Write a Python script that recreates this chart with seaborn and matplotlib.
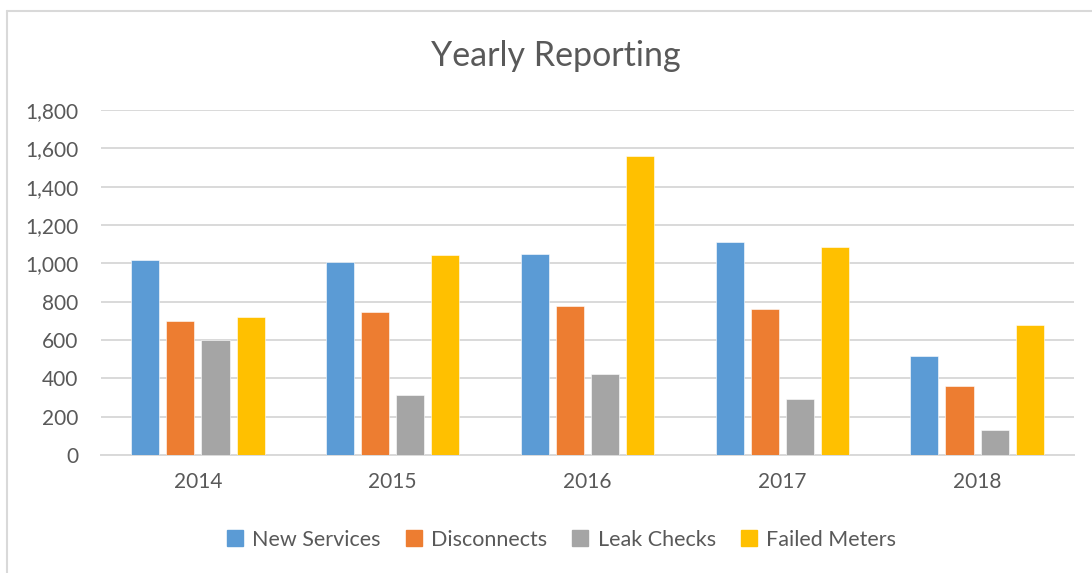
import matplotlib
matplotlib.use("Agg")
import matplotlib.pyplot as plt
from matplotlib.lines import Line2D
from matplotlib.ticker import FuncFormatter
import pandas as pd
import seaborn as sns

# Yearly counts per activity
years = ["2014", "2015", "2016", "2017", "2018"]
series_names = ["New Services", "Disconnects", "Leak Checks", "Failed Meters"]
new_services = [1017, 1009, 1047, 1110, 518]
disconnects = [701, 746, 777, 760, 358]
leak_checks = [600, 314, 424, 291, 132]
failed_meters = [718, 1042, 1562, 1083, 677]
colors = ["#5B9BD5", "#ED7D31", "#A5A5A5", "#FFC000"]
y_ticks = [0, 200, 400, 600, 800, 1000, 1200, 1400, 1600, 1800]

values = [new_services, disconnects, leak_checks, failed_meters]
rows = []
for name, vals in zip(series_names, values):
    for yr, v in zip(years, vals):
        rows.append({"Year": yr, "Series": name, "Count": v})
df = pd.DataFrame(rows)

sns.set_theme(style="white")
plt.rcParams["font.family"] = ["Lato", "DejaVu Sans"]

W, H = 1092, 573
fig = plt.figure(figsize=(W / 100, H / 100), dpi=100)
ax = fig.add_axes([100.6 / W, (H - 455) / H, (1074.4 - 100.6) / W, (455 - 110) / H])

sns.barplot(
    data=df, x="Year", y="Count", hue="Series", order=years,
    hue_order=series_names, palette=colors, saturation=1, width=0.72, gap=0.2,
    edgecolor="white", linewidth=0.4, legend=False, ax=ax, zorder=3,
)

text_color = "#595959"
grid_color = "#D9D9D9"
ax.set_ylim(0, 1800)
ax.set_xlim(-0.5, 4.5)
ax.set_yticks(y_ticks)
ax.yaxis.set_major_formatter(FuncFormatter(lambda v, p: f"{int(v):,}"))
ax.grid(axis="y", color=grid_color, linewidth=1.4, zorder=0)
ax.set_axisbelow(True)
for side in ["top", "right", "left"]:
    ax.spines[side].set_visible(False)
ax.spines["bottom"].set_color(grid_color)
ax.spines["bottom"].set_linewidth(1.4)
ax.tick_params(axis="both", length=0, labelsize=15, labelcolor=text_color)
ax.tick_params(axis="y", pad=16)
ax.tick_params(axis="x", pad=12)
ax.set_xlabel("")
ax.set_ylabel("")

fig.text(556 / W, 1 - 56 / H, "Yearly Reporting", ha="center", va="center",
         fontsize=24.5, color=text_color)

handles = [Line2D([0], [0], marker="s", linestyle="none", markersize=11,
                  markerfacecolor=c, markeredgecolor=c) for c in colors]
fig.legend(handles, series_names, loc="center", ncol=4,
           bbox_to_anchor=(560 / W, 1 - 540 / H), frameon=False,
           fontsize=15.5, labelcolor=text_color, handletextpad=0.3,
           columnspacing=1.05, handlelength=1.0)

# Chart-area border (top and left edges)
fig.add_artist(Line2D([7 / W, 7 / W], [0, 1 - 11 / H], transform=fig.transFigure,
                      color=grid_color, linewidth=1.5))
fig.add_artist(Line2D([7 / W, 1], [1 - 11 / H, 1 - 11 / H], transform=fig.transFigure,
                      color=grid_color, linewidth=1.5))

fig.savefig("out.png", dpi=100, facecolor="white")
